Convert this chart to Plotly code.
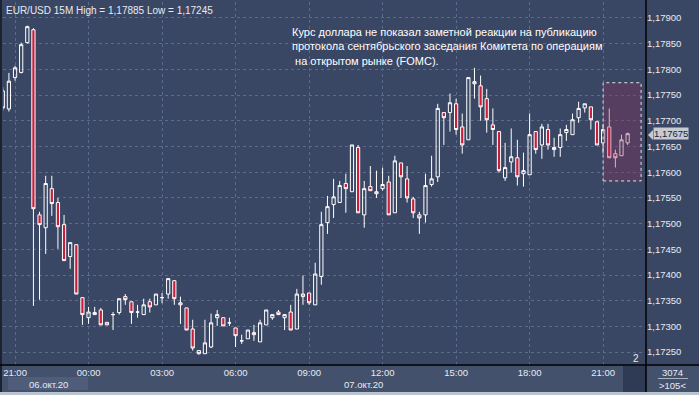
import plotly.graph_objects as go
import pandas as pd

# ---------------- data ----------------
bar_start = "2020-10-06 20:30"
bar_freq = "15min"

opens = [1.17758, 1.17723, 1.17784, 1.17794, 1.17852, 1.17877, 1.17517, 1.17492, 1.17568, 1.17541,
         1.17498, 1.17436, 1.17459, 1.17356, 1.17317, 1.17323, 1.17332, 1.17308, 1.17323, 1.17327,
         1.17358, 1.17348, 1.17328, 1.17323, 1.17348, 1.17342, 1.17356, 1.17363, 1.17389, 1.17346,
         1.17336, 1.17295, 1.17253, 1.17247, 1.17260, 1.17317, 1.17317, 1.17307, 1.17297, 1.17272,
         1.17276, 1.17288, 1.17270, 1.17303, 1.17317, 1.17328, 1.17317, 1.17328, 1.17295, 1.17358,
         1.17365, 1.17342, 1.17397, 1.17502, 1.17537, 1.17541, 1.17578, 1.17562, 1.17648, 1.17517,
         1.17572, 1.17558, 1.17568, 1.17581, 1.17521, 1.17618, 1.17587, 1.17548, 1.17517, 1.17517,
         1.17576, 1.17591, 1.17716, 1.17716, 1.17733, 1.17688, 1.17663, 1.17776, 1.17768, 1.17743,
         1.17692, 1.17679, 1.17589, 1.17620, 1.17628, 1.17597, 1.17595, 1.17679, 1.17653, 1.17683,
         1.17648, 1.17648, 1.17677, 1.17673, 1.17706, 1.17725, 1.17727, 1.17698, 1.17657, 1.17688,
         1.17636, 1.17632, 1.17657]
highs = [1.17765, 1.17793, 1.17807, 1.17852, 1.17885, 1.17880, 1.17523, 1.17593, 1.17593, 1.17550,
         1.17517, 1.17463, 1.17459, 1.17356, 1.17338, 1.17338, 1.17336, 1.17308, 1.17328, 1.17354,
         1.17363, 1.17348, 1.17342, 1.17354, 1.17354, 1.17363, 1.17365, 1.17393, 1.17389, 1.17358,
         1.17336, 1.17313, 1.17253, 1.17313, 1.17325, 1.17332, 1.17317, 1.17317, 1.17297, 1.17284,
         1.17293, 1.17303, 1.17313, 1.17332, 1.17323, 1.17332, 1.17323, 1.17342, 1.17373, 1.17399,
         1.17365, 1.17424, 1.17523, 1.17554, 1.17587, 1.17583, 1.17597, 1.17653, 1.17653, 1.17583,
         1.17612, 1.17603, 1.17609, 1.17593, 1.17632, 1.17618, 1.17612, 1.17552, 1.17523, 1.17597,
         1.17632, 1.17733, 1.17716, 1.17753, 1.17743, 1.17714, 1.17784, 1.17803, 1.17788, 1.17762,
         1.17724, 1.17679, 1.17657, 1.17685, 1.17663, 1.17638, 1.17714, 1.17679, 1.17694, 1.17694,
         1.17667, 1.17685, 1.17692, 1.17714, 1.17737, 1.17733, 1.17727, 1.17700, 1.17694, 1.17724,
         1.17644, 1.17673, 1.17677]
lows = [1.17720, 1.17718, 1.17778, 1.17792, 1.17850, 1.17340, 1.17352, 1.17441, 1.17515, 1.17451,
        1.17428, 1.17412, 1.17363, 1.17303, 1.17305, 1.17323, 1.17303, 1.17303, 1.17293, 1.17323,
        1.17342, 1.17305, 1.17317, 1.17323, 1.17327, 1.17342, 1.17345, 1.17354, 1.17342, 1.17305,
        1.17293, 1.17253, 1.17245, 1.17247, 1.17258, 1.17301, 1.17301, 1.17301, 1.17260, 1.17266,
        1.17276, 1.17272, 1.17270, 1.17303, 1.17313, 1.17323, 1.17293, 1.17293, 1.17295, 1.17342,
        1.17342, 1.17342, 1.17381, 1.17480, 1.17511, 1.17541, 1.17521, 1.17562, 1.17521, 1.17492,
        1.17564, 1.17550, 1.17564, 1.17517, 1.17521, 1.17550, 1.17541, 1.17511, 1.17480, 1.17502,
        1.17572, 1.17581, 1.17653, 1.17679, 1.17673, 1.17636, 1.17663, 1.17743, 1.17700, 1.17677,
        1.17653, 1.17599, 1.17583, 1.17599, 1.17574, 1.17572, 1.17595, 1.17636, 1.17626, 1.17644,
        1.17630, 1.17630, 1.17661, 1.17673, 1.17696, 1.17716, 1.17683, 1.17653, 1.17636, 1.17628,
        1.17609, 1.17632, 1.17653]
closes = [1.17725, 1.17777, 1.17803, 1.17848, 1.17883, 1.17529, 1.17498, 1.17578, 1.17539, 1.17494,
          1.17428, 1.17463, 1.17363, 1.17323, 1.17328, 1.17327, 1.17303, 1.17303, 1.17323, 1.17354,
          1.17352, 1.17327, 1.17328, 1.17342, 1.17338, 1.17363, 1.17356, 1.17393, 1.17354, 1.17342,
          1.17293, 1.17258, 1.17247, 1.17268, 1.17307, 1.17323, 1.17301, 1.17307, 1.17282, 1.17272,
          1.17293, 1.17284, 1.17307, 1.17332, 1.17323, 1.17323, 1.17323, 1.17293, 1.17363, 1.17363,
          1.17346, 1.17402, 1.17498, 1.17533, 1.17552, 1.17574, 1.17568, 1.17653, 1.17521, 1.17568,
          1.17564, 1.17562, 1.17576, 1.17517, 1.17622, 1.17591, 1.17550, 1.17521, 1.17511, 1.17574,
          1.17587, 1.17724, 1.17706, 1.17735, 1.17683, 1.17653, 1.17784, 1.17772, 1.17727, 1.17702,
          1.17683, 1.17603, 1.17609, 1.17630, 1.17591, 1.17603, 1.17673, 1.17644, 1.17688, 1.17653,
          1.17644, 1.17673, 1.17683, 1.17702, 1.17724, 1.17733, 1.17702, 1.17653, 1.17683, 1.17628,
          1.17628, 1.17663, 1.17675]

x_range = ["2020-10-06 20:30:30", "2020-10-07 22:45"]
y_range = [1.17225, 1.17931]
x_tick0 = "2020-10-06 21:00"
x_dtick_ms = 3 * 3600 * 1000
y_tick0 = 1.1725
y_dtick = 0.0005

header_text = "EUR/USD 15M High = 1,17885 Low = 1,17245"
note_lines = ["Курс доллара не показал заметной реакции на публикацию",
              "протокола сентябрьского заседания Комитета по операциям",
              "\u00a0на открытом рынке (FOMC)."]
highlight_x = ["2020-10-07 21:00", "2020-10-07 22:33"]
highlight_y = [1.17583, 1.17774]
last_price_text = "1,17675"
date_labels = ["06.окт.20", "07.окт.20"]
corner_texts = ["3074", ">105<"]
pane_number = "2"

# ---------------- style ----------------
BG = "#3a4764"
PANEL = "#43516d"
GRID = "#5b6b8a"
RED = "#c81e3c"
TXT = "#e8ebf0"
FONT = "Liberation Sans, Arial, sans-serif"

W, H = 699, 395
ML, MR, MT, MB = 3, 53, 2, 30
PW, PH = W - ML - MR, H - MT - MB


def px(xp):
    return (xp - ML) / PW


def py(yp):
    return (H - MB - yp) / PH


times = pd.date_range(bar_start, periods=len(opens), freq=bar_freq)

fig = go.Figure()
fig.add_trace(go.Candlestick(
    x=times, open=opens, high=highs, low=lows, close=closes,
    increasing=dict(line=dict(color="white", width=1), fillcolor="rgba(0,0,0,0)"),
    decreasing=dict(line=dict(color="white", width=1), fillcolor=RED),
    whiskerwidth=0, hoverinfo="skip", showlegend=False,
))

shapes = []
# bottom time-axis strip
shapes.append(dict(type="rect", xref="paper", yref="paper", x0=px(0), x1=px(W), y0=py(392), y1=py(365),
                   fillcolor=PANEL, line=dict(width=0), layer="below"))
# date box
shapes.append(dict(type="rect", xref="paper", yref="paper", x0=px(8), x1=px(88), y0=py(390), y1=py(377),
                   fillcolor="#4f5d7a", line=dict(width=0), layer="below"))
# dark box near right of time axis
shapes.append(dict(type="rect", xref="paper", yref="paper", x0=px(623), x1=px(646), y0=py(392), y1=py(366),
                   fillcolor="#2f3b55", line=dict(width=0), layer="below"))
# bottom frame
shapes.append(dict(type="rect", xref="paper", yref="paper", x0=px(0), x1=px(W), y0=py(H), y1=py(392),
                   fillcolor="#bcc4d0", line=dict(width=0)))
# left frame
shapes.append(dict(type="rect", xref="paper", yref="paper", x0=px(0), x1=px(2), y0=py(392), y1=py(0),
                   fillcolor="#1c2230", line=dict(width=0)))
# separators
shapes.append(dict(type="line", xref="paper", yref="paper", x0=1, x1=1, y0=py(392), y1=py(0),
                   line=dict(color="#000000", width=1.5)))
shapes.append(dict(type="line", xref="paper", yref="paper", x0=px(0), x1=px(W), y0=0, y1=0,
                   line=dict(color="#000000", width=1.5)))
# highlight rectangle
shapes.append(dict(type="rect", xref="x", yref="y", x0=highlight_x[0], x1=highlight_x[1],
                   y0=highlight_y[0], y1=highlight_y[1], fillcolor="rgba(140,45,90,0.35)",
                   line=dict(color="#e6e0ea", width=1, dash="dot"), layer="above"))
# corner divider
shapes.append(dict(type="line", xref="paper", yref="paper", x0=px(658), x1=px(688), y0=py(378.5), y1=py(378.5),
                   line=dict(color="#aab3c4", width=1)))
# price tag arrow
tag_y = closes[-1]
shapes.append(dict(type="path", xref="paper", yref="paper",
                   path=f"M {px(648)},{py(135)} L {px(653)},{py(130)} L {px(653)},{py(140)} Z",
                   fillcolor="#c5cad3", line=dict(width=0)))

annotations = [
    dict(text=header_text, xref="paper", yref="paper", x=px(4), y=py(3), xanchor="left", yanchor="top",
         showarrow=False, font=dict(size=10, color=TXT, family=FONT)),
    dict(text="<br>".join(note_lines), xref="paper", yref="paper", x=px(290), y=py(24),
         xanchor="left", yanchor="top", align="left", showarrow=False,
         font=dict(size=11, color="#ffffff", family=FONT)),
    dict(text=last_price_text, xref="paper", yref="y", x=px(653), y=tag_y, xanchor="left", yanchor="middle",
         showarrow=False, bgcolor="#c5cad3", borderpad=0,
         font=dict(size=9.5, color="#1b2233", family=FONT)),
    dict(text=date_labels[0], xref="paper", yref="paper", x=px(48), y=py(384), xanchor="center",
         yanchor="middle", showarrow=False, font=dict(size=9.5, color=TXT, family=FONT)),
    dict(text=date_labels[1], xref="paper", yref="paper", x=px(342), y=py(384), xanchor="left",
         yanchor="middle", showarrow=False, font=dict(size=9.5, color=TXT, family=FONT)),
    dict(text=corner_texts[0], xref="paper", yref="paper", x=px(672), y=py(372), xanchor="center",
         yanchor="middle", showarrow=False, font=dict(size=9.5, color=TXT, family=FONT)),
    dict(text=corner_texts[1], xref="paper", yref="paper", x=px(672), y=py(385), xanchor="center",
         yanchor="middle", showarrow=False, font=dict(size=9.5, color=TXT, family=FONT)),
    dict(text=pane_number, xref="paper", yref="paper", x=px(636), y=py(358), xanchor="center",
         yanchor="middle", showarrow=False, font=dict(size=10, color=TXT, family=FONT)),
]

fig.update_layout(
    width=W, height=H, margin=dict(l=ML, r=MR, t=MT, b=MB, pad=0),
    paper_bgcolor=BG, plot_bgcolor=BG, separators=", ",
    font=dict(family=FONT, size=10, color=TXT),
    boxgap=0.25,
    xaxis=dict(type="date", range=x_range, rangeslider=dict(visible=False),
               tick0=x_tick0, dtick=x_dtick_ms, tickformat="%H:%M",
               showgrid=True, gridcolor=GRID, griddash="3px,3px", gridwidth=1,
               zeroline=False, showline=False, ticks="", tickfont=dict(size=9.5, color=TXT)),
    yaxis=dict(side="right", range=y_range, tick0=y_tick0, dtick=y_dtick, tickformat=".5f",
               showgrid=True, gridcolor=GRID, griddash="3px,3px", gridwidth=1,
               zeroline=False, showline=False, ticks="", tickfont=dict(size=9.5, color=TXT)),
    shapes=shapes, annotations=annotations,
)

fig.write_html("out.html", config={"displayModeBar": False},
               post_script="document.body.style.margin='0';document.body.style.overflow='hidden';")
